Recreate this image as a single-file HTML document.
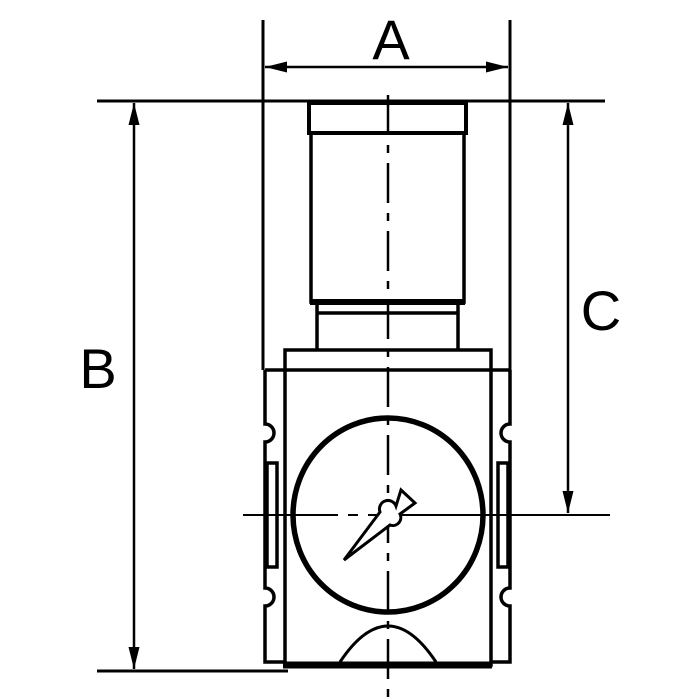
<!DOCTYPE html>
<html><head><style>body{margin:0;background:#fff}svg{display:block}</style></head><body>
<svg width="700" height="700" viewBox="0 0 700 700" xmlns="http://www.w3.org/2000/svg">
<defs><marker id="ar" viewBox="0 0 22 12" refX="22" refY="6" markerWidth="22" markerHeight="12" markerUnits="userSpaceOnUse" orient="auto-start-reverse"><path d="M0,0.5 L22,6 L0,11.5z" fill="#000"/></marker></defs>
<g stroke="#000" fill="none" stroke-width="3.5">
<!-- dimension lines -->
<line x1="263" y1="20" x2="263" y2="370" stroke-width="3"/>
<line x1="510" y1="20" x2="510" y2="370" stroke-width="3"/>
<line x1="265" y1="67" x2="508" y2="67" marker-start="url(#ar)" marker-end="url(#ar)" stroke-width="2.5"/>
<line x1="97" y1="101" x2="605" y2="101" stroke-width="3"/>
<line x1="97" y1="671" x2="288" y2="671" stroke-width="3"/>
<line x1="134" y1="103" x2="134" y2="669" marker-start="url(#ar)" marker-end="url(#ar)" stroke-width="2.5"/>
<line x1="568" y1="103" x2="568" y2="513" marker-start="url(#ar)" marker-end="url(#ar)" stroke-width="2.5"/>
<line x1="243" y1="515" x2="338" y2="515" stroke-width="2"/>
<line x1="348" y1="515" x2="358" y2="515" stroke-width="2"/>
<line x1="368" y1="515" x2="610" y2="515" stroke-width="2"/>
<!-- center line -->
<line x1="388" y1="95" x2="388" y2="700" stroke-width="2.5" stroke-dasharray="40,10,8,10"/>
<!-- cap -->
<rect x="309" y="103" width="157" height="30" stroke-width="4"/>
<rect x="311" y="133" width="153" height="169"/>
<line x1="310" y1="302" x2="465" y2="302" stroke-width="6"/>
<line x1="317" y1="313" x2="458" y2="313"/>
<line x1="317" y1="305" x2="317" y2="350"/>
<line x1="458" y1="305" x2="458" y2="350"/>
<!-- body -->
<rect x="285" y="350" width="206" height="315"/>
<line x1="265" y1="370" x2="510" y2="370"/>
<path d="M265,370 V424 A9,9 0 0 1 265,442 V588 A9,9 0 0 1 265,606 V662 H285"/>
<path d="M510,370 V424 A9,9 0 0 0 510,442 V588 A9,9 0 0 0 510,606 V662 H491"/>
<rect x="267" y="463" width="10" height="104"/>
<rect x="498" y="463" width="10" height="104"/>
<line x1="283" y1="665" x2="492" y2="665" stroke-width="7"/>
<path d="M340,662 Q388,590 436,662" stroke-width="3"/>
<!-- gauge -->
<ellipse cx="388" cy="515" rx="95" ry="97" stroke-width="5.5"/>
<path d="M344,560 L380,512 A8,8 0 0 1 396,506 L401,490 L415,503 L400,514 A8,8 0 0 1 390,525 Z" stroke-width="3" fill="#fff"/>
</g>
<g font-family="Liberation Sans, sans-serif" font-size="56" fill="#000" text-anchor="middle">
<text x="391" y="59">A</text>
<text x="98" y="388">B</text>
<text x="601" y="330">C</text>
</g>
</svg>
</body></html>
